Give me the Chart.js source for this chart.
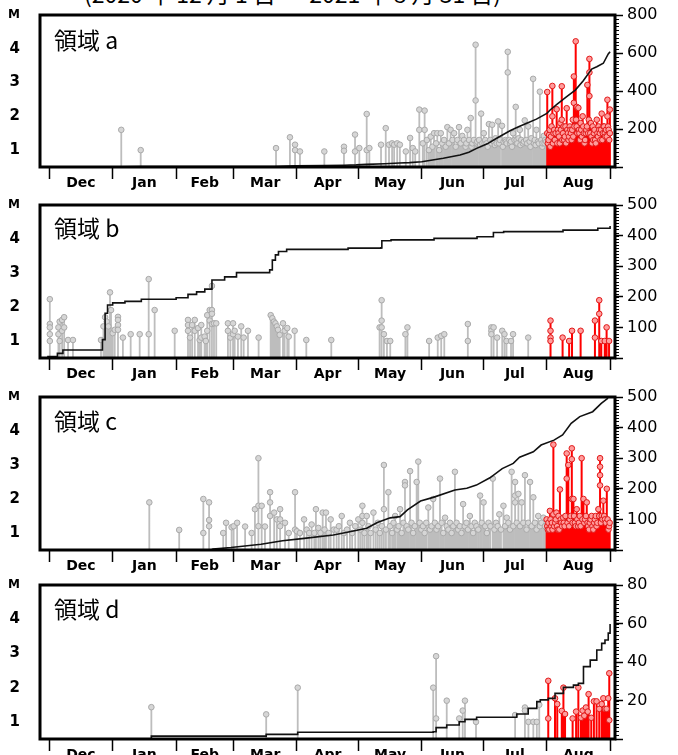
<!DOCTYPE html>
<html>
<head>
<meta charset="utf-8">
<script src="https://cdn.jsdelivr.net/npm/chart.js@4.4.1/dist/chart.umd.min.js"></script>
<style>
  body { margin: 0; width: 678px; height: 755px; overflow: hidden; background: #fff; position: relative; }
  .pn { position: absolute; left: 0; }
  .lab { position: absolute; left: 54px; font: 23px/23px "Noto Sans CJK JP", sans-serif; color: #000; white-space: pre; }
  .ttl { position: absolute; left: 84px; top: -19px; font: 23px/24px "Noto Sans CJK JP", sans-serif; color: #000; white-space: pre; }
</style>
</head>
<body>
<div class="ttl">(2020 年 12 月 1 日 ～ 2021 年 8 月 31 日)</div>

<canvas class="pn" id="ca" width="678" height="195" style="top:0px"></canvas>
<canvas class="pn" id="cb" width="678" height="196" style="top:190px"></canvas>
<canvas class="pn" id="cc" width="678" height="196" style="top:382px"></canvas>
<canvas class="pn" id="cd" width="678" height="197" style="top:570px"></canvas>

<div class="lab" style="top:28px">領域 a</div>
<div class="lab" style="top:216px">領域 b</div>
<div class="lab" style="top:409px">領域 c</div>
<div class="lab" style="top:597px">領域 d</div>

<script>
// days counted from 2020-12-01 (day 0)
const MONTHS = ['Dec', 'Jan', 'Feb', 'Mar', 'Apr', 'May', 'Jun', 'Jul', 'Aug'];
const MONTH_START = [0, 31, 62, 90, 121, 151, 182, 212, 243, 274];
const AUG_START = 243;
const M_TICKS = [1, 2, 3, 4, 5];
const M_MIN = 0.5, M_MAX = 5;
const X_MIN = -4.5, X_MAX = 276.4;

// [day, M]
const EV_A = [
  [35.2,1.6],[44.7,1.0],
  [110.8,1.06],[117.6,1.38],[120.1,1.16],[120.1,1.0],[122.5,0.96],[134.4,0.96],[144,1.1],[144,0.98],
  [149.4,1.46],[149.4,0.96],[151.5,1.06],[155.1,2.07],[155.1,1.0],[156.4,1.06],[162.1,1.16],[164.4,1.65],
  [166,1.16],[167.5,1.2],[168.5,1.16],[170,1.2],[171.3,1.16],[174.2,0.96],[176.3,1.36],[177.6,1.06],
  [178.8,0.96],[180.8,2.2],[180.8,1.6],
  [182.5,1.2],[183.4,2.17],[183.4,1.6],[184.5,1.3],[185.5,1.0],[186.4,1.4],[187.2,1.1],[188,1.5],[189,1.2],
  [189.6,1.5],[190.5,1.0],[191.3,1.5],[192,1.2],[192.9,1.3],[193.7,1.1],[194.5,1.68],[195.3,1.2],[196.1,1.6],
  [197,1.3],[197.8,1.5],[198.6,1.1],[199.4,1.3],[200.2,1.68],[201,1.2],[201.8,1.42],[202.6,1.3],[203.4,1.1],
  [203.8,1.2],[204.3,1.6],[205.1,1.3],[205.9,1.95],[206.3,1.1],[206.7,1.2],[207.5,1.3],[208.3,4.12],[208.3,2.47],
  [208.8,1.2],[209.1,1.25],[210,1.3],[210.5,1.15],[211,2.08],[211.6,1.2],[212.3,1.5],[212.7,1.2],[213,1.3],
  [213.7,1.2],[214.2,1.1],[214.8,1.77],[215.5,1.3],[216,1.2],[216.4,1.75],[217.2,1.25],[217.7,1.15],[218,1.35],
  [218.6,1.2],[219.3,1.85],[219.8,1.2],[220.2,1.3],[221.2,1.72],[221.6,1.1],[222,1.25],[222.8,1.3],[223.1,1.25],
  [223.5,1.2],[224,3.91],[224,3.3],[224.8,1.3],[225.2,1.2],[225.6,1.25],[226.1,1.1],[226.6,1.5],[227.3,1.3],
  [227.9,2.28],[228.3,1.3],[228.7,1.2],[229.3,1.35],[229.9,1.6],[230.2,1.15],[230.6,1.3],[231.4,1.2],[231.9,1.25],
  [232.3,1.88],[233,1.3],[233.5,1.2],[234,1.7],[234.7,1.25],[235.1,1.1],[235.5,1.35],[236.4,3.11],[236.8,1.2],
  [237.2,1.3],[237.6,1.15],[238,1.6],[238.8,1.25],[239.2,1.2],[239.7,2.73],[240.4,1.3],[240.9,1.1],[241,1.2],
  [241.6,1.42],[242,1.2],[242.3,1.3],[242.8,1.25],
  [243.3,2.72],[243.3,1.5],[243.6,1.2],[243.9,1.3],[244.2,1.45],[244.5,1.6],[244.8,1.1],[245.1,1.4],[245.4,1.7],
  [245.8,2.9],[245.8,2.0],[246.1,1.2],[246.4,1.5],[246.7,1.6],[247,1.3],[247.4,1.5],[247.9,2.21],[248.2,1.2],
  [248.5,1.6],[248.8,1.5],[249.1,1.4],[249.4,1.2],[249.7,1.8],[250,1.6],[250.4,2.89],[250.4,1.9],[250.7,1.3],
  [251,1.5],[251.3,1.7],[251.6,1.3],[251.9,1.4],[252.2,1.7],[252.5,1.2],[252.8,2.24],[253.1,1.6],[253.4,1.5],
  [253.7,1.3],[254,1.4],[254.3,1.7],[254.6,1.6],[254.9,1.5],[255.2,1.3],[255.5,1.6],[255.8,1.9],[256,1.4],
  [256.3,3.18],[256.3,2.4],[256.6,1.7],[257.2,4.22],[257.4,1.9],[257.7,2.28],[257.7,1.7],[258,1.5],[258.5,2.25],
  [258.8,1.6],[259,1.5],[259.3,1.3],[259.6,1.8],[259.9,1.6],[260.2,1.4],[260.6,2.0],[260.9,1.7],[261.2,1.5],
  [261.5,1.2],[261.8,1.3],[262.1,1.5],[262.4,1.6],[262.7,1.7],[262.9,2.93],[263.3,1.5],[263.6,1.9],[263.9,3.7],
  [263.9,3.3],[263.9,2.6],[264.3,1.5],[264.6,1.8],[264.9,1.4],[265.2,1.2],[265.5,1.7],[265.8,1.3],[266.1,1.5],
  [266.4,1.6],[266.7,1.3],[267,1.2],[267.5,1.9],[267.8,1.5],[268.1,1.4],[268.4,1.7],[268.7,1.6],[269,1.5],
  [269.3,1.3],[269.6,1.6],[269.9,2.08],[270.2,1.3],[270.5,1.5],[270.8,1.7],[271.1,1.7],[271.4,1.5],[271.7,1.4],
  [272,1.6],[272.4,1.4],[272.7,2.49],[272.7,2.0],[273,1.7],[273.3,1.6],[273.6,1.3],[273.9,2.2],[273.9,1.5]
];
const CUM_A = [[0,0],[35,1],[45,2],[110,3],[120,6],[134,7],[144,9],[150,11],[155,14],[164,17],[171,21],[176,23],
  [182,28],[188,38],[192.5,46],[200.7,63],[205,78],[208.8,98],[214,122],[218.6,151],[225.1,191],[229,210],
  [233.3,230],[238,252],[243.1,282],[244.7,300],[248,330],[252.8,370],[257,405],[260.9,454],[265,515],
  [267.5,528],[270.7,546],[273.1,595],[274,607]];

const EV_B = [
  [0.3,2.23],[0.3,1.5],[0.3,1.4],[0.3,1.2],[0.3,1.0],[4.5,1.4],[4.5,1.2],[5.1,1.57],[5.1,1.0],[6.3,1.62],[6.3,1.3],
  [7.3,1.7],[7.3,1.4],[9.2,1.03],[11.6,1.03],
  [25.3,1.03],[26.5,1.43],[27.3,1.7],[28.1,1.57],[28.9,1.43],[29.7,2.43],[30.2,1.91],[31,1.23],[32,1.33],
  [33.6,1.71],[33.6,1.62],[33.6,1.47],[33.6,1.33],[36,1.1],[39.8,1.2],[44.2,1.2],[48.6,2.82],[48.6,1.2],
  [51.5,1.91],[61.3,1.3],
  [67.8,1.62],[67.8,1.47],[67.8,1.3],[68.8,1.1],[69.8,1.47],[71.1,1.62],[71.1,1.3],[72.7,1.38],[73.5,1.03],
  [74.3,1.47],[74.3,1.1],[75.9,1.13],[76.5,1.0],[77.2,1.76],[77.2,1.3],[78.4,1.91],[78.4,1.6],[79.5,2.62],
  [79.5,1.91],[79.5,1.8],[79.5,1.5],[80.5,1.52],[81.6,1.52],
  [87.3,1.52],[87.3,1.3],[88.5,1.1],[89.8,1.52],[89.8,1.2],[90.6,1.3],[92.2,1.13],[93.8,1.43],[95,1.1],
  [97.1,1.3],[102.3,1.1],
  [108.2,1.76],[109,1.67],[109.8,1.57],[110.5,1.52],[111.2,1.43],[111.8,1.33],[112.6,1.18],[114.2,1.52],
  [115,1.3],[116.3,1.38],[117,1.13],[119.9,1.3],[125.6,1.03],[137.8,1.03],
  [161.4,1.4],[162.4,2.2],[162.4,1.6],[162.4,1.4],[163.5,1.2],[165,1.0],[166.6,1.0],[174,1.2],[175,1.4],
  [185.6,1.0],[189.8,1.1],[191.5,1.15],[193,1.2],[204.5,1.5],[204.5,1.0],
  [216,1.4],[216,1.3],[216,1.2],[217.1,1.4],[218.8,1.1],[221.3,1.3],[222.4,1.2],[223.4,1.0],[225.6,1.0],
  [226.6,1.2],[234,1.1],
  [244.9,1.6],[244.9,1.3],[244.9,1.1],[244.9,1.0],[250.8,1.1],[254,1.0],[255.4,1.3],[259.6,1.3],[266.6,1.6],
  [266.6,1.1],[268.7,2.2],[268.7,1.8],[269.7,1.0],[271.4,1.0],[272.3,1.4],[273.5,1.0]
];
const CUM_B = [[-1,5],[4,15],[6.7,26],[25.5,26],[26,60],[27.3,146],[28.5,173],[31,180],[37,185],[45,192],
  [62,197],[67.8,208],[72,216],[76,225],[79.5,255],[85.7,265],[91.5,279],[107.7,288],[109,320],[110.5,337],
  [112,348],[116,355],[146,359],[162,360],[162.5,383],[167,386],[188,391],[209,396],[217,410],[222,413],
  [251,418],[268,424],[274,431]];

const EV_C = [
  [48.9,1.9],[63.5,1.09],[75.3,2.0],[75.3,1.0],[78.1,1.9],[78.1,1.38],[78.1,1.2],
  [85,1.0],[86.4,1.3],[89.1,1.17],[90.1,1.2],[91.8,1.3],[95.7,1.19],[98.9,1.0],[100.5,1.7],[102.2,3.2],
  [102.2,1.8],[102.2,1.2],[103.8,1.8],[105.4,1.19],[107.9,2.2],[107.9,1.9],[107.9,1.5],[109.9,1.6],[111.2,1.4],
  [112.8,1.7],[112.8,1.4],[112.8,1.2],[115.2,1.3],[117,1.0],[120.1,2.2],[120.1,1.1],[121,1.05],[122.5,1.0],
  [124.5,1.4],[125.8,1.1],[127,1.0],[128.2,1.25],[129.5,1.0],[130.3,1.7],[131.5,1.15],[132.5,1.0],[133.6,1.6],
  [134.5,1.1],[135.2,1.6],[136.5,1.0],[137.5,1.4],[139,1.1],[140.4,1.1],[141.5,1.2],[142.9,1.5],[144,1.0],
  [145.5,1.1],[146.9,1.3],[148,1.0],[149.5,1.2],[151,1.4],[152,1.1],[153,1.8],[153,1.5],[153,1.3],[154,1.0],
  [155.1,1.5],[156,1.2],[157,1.0],[158.4,1.6],[159.5,1.1],[160.5,1.3],[161.5,1.0],[162.5,1.2],[163.5,3.0],
  [163.5,1.7],[164.5,1.1],[165.7,2.2],[166.5,1.2],[167.5,1.0],[168.2,1.3],[169,1.5],[170,1.1],[170.7,1.2],
  [171.4,1.7],[172.2,1.0],[173,1.3],[173.8,2.5],[173.8,2.4],[174.6,1.2],[175.4,1.1],[176.3,2.82],[177,1.3],
  [177.8,1.0],[178.6,1.2],[179.5,2.5],[180.3,3.1],[181,1.3],[181.8,1.1],[182.6,1.2],[183.4,1.0],[184.2,1.3],
  [185.2,1.75],[186,1.1],[186.8,1.2],[187.6,2.0],[188.4,1.3],[189.2,1.1],[190,1.2],[190.9,2.6],[191.7,1.3],
  [192.5,1.0],[193.4,1.45],[194.2,1.2],[195,1.1],[195.8,1.3],[196.6,1.0],[197.4,1.2],[198.2,2.8],[199,1.3],
  [199.8,1.1],[200.6,1.2],[201.4,1.0],[202.2,1.85],[203,1.2],[203.8,1.3],[204.6,1.1],[205.5,1.5],[206.3,1.2],
  [207.1,1.0],[207.9,1.3],[208.7,1.2],[209.6,1.1],[210.5,2.1],[211.3,1.3],[212.2,1.9],[213,1.2],[213.8,1.0],
  [214.6,1.3],[215.5,1.2],[216.7,2.6],[217.5,1.1],[218.3,1.3],[219.1,1.2],[219.9,1.55],[220.7,1.1],[221.9,1.8],
  [222.7,1.2],[223.5,1.45],[224.3,1.3],[225.1,1.1],[225.9,2.8],[226.7,1.2],[227.6,2.5],[227.6,2.1],[227.6,1.9],
  [228.4,1.3],[229.2,2.15],[230,1.2],[230.8,1.9],[231.6,1.3],[232.4,2.7],[233.2,1.1],[234,1.3],[234.9,2.5],
  [235.7,1.2],[236.5,2.05],[237.3,1.3],[238.1,1.1],[238.9,1.5],[239.7,1.2],[240.5,1.3],[241.4,1.45],[242.2,1.2],
  [243,1.4],[243.3,1.2],[243.6,1.1],[243.9,1.3],[244.3,1.1],[244.6,1.65],[244.9,1.4],[245.3,1.2],[245.6,1.3],
  [245.9,1.1],[246.3,3.6],[246.3,1.55],[246.7,1.2],[247.2,1.3],[247.5,1.4],[247.8,1.6],[248.1,1.2],[248.5,1.1],
  [248.8,1.5],[249.2,1.1],[249.5,2.28],[249.9,1.4],[250.2,1.3],[250.6,1.2],[251.1,1.45],[251.4,1.3],[251.8,1.2],
  [252.2,1.5],[252.8,3.34],[252.8,2.6],[253.2,1.3],[253.6,3.0],[254,1.2],[254.3,1.4],[254.7,1.5],[255.3,3.49],
  [255.3,3.17],[255.3,2.0],[255.7,1.3],[256.1,2.0],[256.4,1.5],[256.8,1.3],[257.2,1.2],[257.7,1.7],[258,1.4],
  [258.4,1.2],[258.8,1.3],[259.2,1.5],[259.6,1.2],[260.1,3.2],[260.5,1.4],[261,2.0],[261.4,1.3],[261.8,1.4],
  [262.2,1.5],[262.6,1.9],[263,1.3],[263.3,1.2],[263.7,1.1],[264.1,1.3],[264.5,1.4],[265,1.5],[265.4,1.2],
  [265.8,1.1],[266.2,1.3],[266.6,1.4],[267,1.5],[267.4,1.2],[267.8,1.3],[268.3,1.7],[268.7,1.5],[269.1,3.2],
  [269.1,2.95],[269.1,2.7],[269.1,2.4],[269.5,1.3],[269.9,1.5],[270.3,1.4],[270.7,1.95],[271.1,1.5],[271.5,1.4],
  [271.9,1.3],[272.4,2.3],[272.8,1.4],[273.2,1.1],[273.5,1.2],[273.8,1.3]
];
const CUM_C = [[79,0],[80,3],[88.8,8],[103.5,19],[114,30],[124.6,38],[138.8,49],[145.6,58],[155.1,71],
  [160.3,90],[166.6,105],[171.4,109],[175,131],[181.4,160],[187.6,172],[198.2,196],[204,202],[208.7,212],
  [215.3,236],[221.3,266],[226.7,283],[229.8,303],[236.5,321],[240.3,343],[246.6,359],[250.8,376],[255,414],
  [259.2,436],[265.5,452],[269.7,479],[273,496]];

const EV_D = [
  [49.9,1.43],[106,1.22],[121.4,2.0],[187.6,2.0],[189,2.92],[189,1.1],[194.2,1.62],[200.3,1.1],[202,1.33],
  [203.1,1.62],[208.5,1.0],[227.6,1.2],[232.4,1.42],[232.4,1.33],[234.1,1.0],[236.5,1.0],[238.2,1.0],[239.4,1.5],
  [243.8,2.2],[243.8,1.1],[247.1,1.69],[248.2,1.52],[250.4,1.32],[251.2,2.0],[252,1.23],[255.7,1.1],[257.4,1.3],
  [258.5,2.0],[259.8,1.12],[260.6,1.33],[261.4,1.18],[262.2,1.42],[263.1,1.3],[263.5,1.81],[264.8,1.12],
  [266.1,1.6],[267.4,1.6],[268.7,1.38],[269.9,1.52],[270.7,1.69],[271.5,1.38],[272.3,1.38],[273.1,1.69],
  [273.6,2.42],[273.6,1.05]
];
const CUM_D = [[0,0],[49.9,1.5],[106,2.4],[121.4,3.5],[187.6,3.8],[189,5.9],[194.2,7.3],[200.3,9],[203.1,10.2],
  [208.8,11.3],[228.4,13],[234,15.9],[238.2,19.4],[239.9,20.3],[243.8,21.1],[247.1,23.7],[251.2,26.8],
  [256.1,28],[258.5,28.9],[261,37.6],[264.3,41],[267.5,46.2],[269.9,49.7],[271.5,51.4],[273.1,55],[274,59.7]];

const GRAY = '#bdbdbd', GRAY_PT = '#a9a9a9', GRAY_FILL = '#d6d6d6';
const RED = '#ff0000', RED_PT = '#e01818', RED_FILL = '#ff9c9c';
const FONT = 'DejaVu Sans';

Chart.defaults.font.family = FONT;
Chart.defaults.color = '#000';

function stems(ev) {
  const out = [];
  ev.forEach(([d, m]) => out.push({ x: d, y: M_MIN }, { x: d, y: m }, { x: d, y: null }));
  return out;
}
function tops(ev) { return ev.map(([d, m]) => ({ x: d, y: m })); }

// thick frame round the plot and the small ticks of the right axis
const framePlugin = {
  id: 'frame',
  afterDraw(chart) {
    const { ctx, chartArea: a } = chart;
    const r = chart.scales.y1;
    const step = r.options.ticks.stepSize / 10;
    ctx.save();
    ctx.strokeStyle = '#000';
    ctx.lineWidth = 1;
    ctx.beginPath();
    for (let v = r.min; v <= r.max + 1e-6; v += step) {
      const y = Math.round(r.getPixelForValue(v)) + 0.5;
      ctx.moveTo(a.right, y);
      ctx.lineTo(a.right + 4, y);
    }
    ctx.stroke();
    ctx.lineWidth = 3;
    ctx.strokeRect(a.left, a.top, a.right - a.left, a.bottom - a.top);
    ctx.restore();
  }
};

function noPad(s) { s.paddingTop = 0; s.paddingBottom = 0; }

function makePanel(id, ev, cum, rMax, rStep, stepped) {
  const gray = ev.filter(e => e[0] < AUG_START);
  const red = ev.filter(e => e[0] >= AUG_START);
  new Chart(document.getElementById(id), {
    type: 'line',
    data: {
      datasets: [
        { data: cum.map(([d, v]) => ({ x: d, y: v })), yAxisID: 'y1', borderColor: '#111', borderWidth: 1.6,
          pointRadius: 0, stepped: stepped, tension: 0, order: 0 },
        { data: tops(red), showLine: false, pointRadius: 2.8, pointBorderWidth: 1,
          pointBorderColor: RED_PT, pointBackgroundColor: RED_FILL, order: 1 },
        { data: stems(red), borderColor: RED, borderWidth: 2, pointRadius: 0, spanGaps: false, order: 2 },
        { data: tops(gray), showLine: false, pointRadius: 2.8, pointBorderWidth: 1,
          pointBorderColor: GRAY_PT, pointBackgroundColor: GRAY_FILL, order: 3 },
        { data: stems(gray), borderColor: GRAY, borderWidth: 1.8, pointRadius: 0, spanGaps: false, order: 4 }
      ]
    },
    options: {
      responsive: false,
      animation: false,
      events: [],
      layout: { padding: { top: 15, left: 0, right: 0, bottom: 0 } },
      plugins: { legend: { display: false }, tooltip: { enabled: false } },
      scales: {
        x: {
          type: 'linear', min: X_MIN, max: X_MAX,
          afterBuildTicks: s => {
            const t = [];
            MONTH_START.forEach((d, i) => {
              t.push({ value: d });
              if (i < MONTHS.length) t.push({ value: (d + MONTH_START[i + 1]) / 2 });
            });
            s.ticks = t;
          },
          ticks: { autoSkip: false, maxRotation: 0, padding: -4,
                   font: { size: 14, weight: 'bold' },
                   callback: (v, i) => i % 2 ? MONTHS[(i - 1) / 2] : '' },
          grid: { drawOnChartArea: false, tickLength: 12, tickWidth: 1.5,
                  tickColor: c => c.index % 2 ? 'rgba(0,0,0,0)' : '#000' },
          border: { display: false },
          afterFit: s => { s.height = 28; s.paddingLeft = 0; s.paddingRight = 0; }
        },
        y: {
          position: 'left', min: M_MIN, max: M_MAX,
          afterBuildTicks: s => { s.ticks = M_TICKS.map(v => ({ value: v })); },
          ticks: { padding: 20, callback: v => v === 5 ? 'M' : v,
                   font: c => c.tick && c.tick.value === 5 ? { size: 12, weight: 'bold' } : { size: 15, weight: 'bold' } },
          grid: { display: false, drawTicks: false },
          border: { display: false },
          afterFit: s => { s.width = 40; noPad(s); }
        },
        y1: {
          position: 'right', min: 0, max: rMax,
          ticks: { stepSize: rStep, padding: 4, font: { size: 16 }, callback: v => v === 0 ? '' : v },
          grid: { drawOnChartArea: false, tickLength: 8, tickWidth: 1.5, tickColor: '#000' },
          border: { display: false },
          afterFit: s => { s.width = 63; noPad(s); }
        }
      }
    },
    plugins: [framePlugin]
  });
}

makePanel('ca', EV_A, CUM_A, 800, 200, false);
makePanel('cb', EV_B, CUM_B, 500, 100, true);
makePanel('cc', EV_C, CUM_C, 500, 100, false);
makePanel('cd', EV_D, CUM_D, 80, 20, true);
</script>
</body>
</html>
